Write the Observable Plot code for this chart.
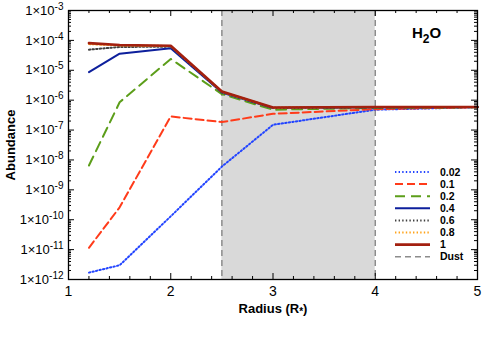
<!DOCTYPE html>
<html><head><meta charset="utf-8">
<script src="https://cdn.jsdelivr.net/npm/d3@7"></script>
<script src="https://cdn.jsdelivr.net/npm/@observablehq/plot@0.6"></script>
<style>
body{margin:0;background:#fff;font-family:"Liberation Sans",Arial,Helvetica,sans-serif}
#chart{position:relative;width:485px;height:345px}
</style>
</head><body><div id="chart"></div><script>
// ---- data ----
const radius = [1.2, 1.5, 2, 2.5, 3, 4, 5];
const ab002 = [1.7e-12, 3e-12, 1.3e-10, 6e-9, 1.5e-7, 4.8e-7, 5.8e-7];
const ab01  = [1.15e-11, 2.6e-10, 2.85e-7, 1.85e-7, 3.5e-7, 5e-7, 5.8e-7];
const ab02  = [6.5e-9, 8.5e-7, 2.4e-5, 1.6e-6, 4.8e-7, 5.5e-7, 5.8e-7];
const ab04  = [8.7e-6, 3.6e-5, 5.5e-5, 1.8e-6, 5.5e-7, 5.8e-7, 5.9e-7];
const ab06  = [4.9e-5, 6e-5, 6.2e-5, 1.9e-6, 5.6e-7, 5.8e-7, 5.9e-7];
const ab08  = [7.5e-5, 6.8e-5, 6.5e-5, 1.9e-6, 5.6e-7, 5.9e-7, 5.9e-7];
const ab1   = [8.1e-5, 7e-5, 6.6e-5, 1.95e-6, 5.7e-7, 5.9e-7, 5.9e-7];
const seriesNames = ["0.02", "0.1", "0.2", "0.4", "0.6", "0.8", "1"];
const seriesValues = [ab002, ab01, ab02, ab04, ab06, ab08, ab1];
const dustRange = [2.5, 4];
const xTicks = [1, 2, 3, 4, 5];
const yTicks = [1e-12, 1e-11, 1e-10, 1e-9, 1e-8, 1e-7, 1e-6, 1e-5, 1e-4, 1e-3];

// ---- styles ----
const styles = {
  "0.02": {stroke: "#2244ff", strokeWidth: 2, strokeDasharray: "1.4,2.2"},
  "0.1":  {stroke: "#ff3b1a", strokeWidth: 2, strokeDasharray: "8,4"},
  "0.2":  {stroke: "#5c9e1a", strokeWidth: 2, strokeDasharray: "10,6"},
  "0.4":  {stroke: "#0d1f9c", strokeWidth: 2},
  "0.6":  {stroke: "#404040", strokeWidth: 2, strokeDasharray: "1.4,2.2"},
  "0.8":  {stroke: "#ffa31a", strokeWidth: 2, strokeDasharray: "1.4,2.2"},
  "1":    {stroke: "#a3200f", strokeWidth: 2.6}
};
const dustStyle = {stroke: "#8c8c8c", strokeWidth: 1.5, strokeDasharray: "6,4"};

const rows = seriesNames.flatMap((s, i) => radius.map((r, j) => ({series: s, r, v: seriesValues[i][j]})));

// tick helpers
const xMinor = d3.range(1, 5.0001, 0.2).map(d => +d.toFixed(1));
const yMinor = [];
for (let k = -12; k < -3; k++) for (let m = 2; m <= 9; m++) yMinor.push(m * Math.pow(10, k));
const W = 485, H = 345, mL = 68, mR = 8, mT = 10, mB = 66;
const pxX = (W - mL - mR) / 4;            // px per x unit
const pxDec = (H - mT - mB) / 9;          // px per decade
const dxu = px => px / pxX;
const dyf = px => Math.pow(10, px / pxDec);

const marks = [
  Plot.rect([dustRange], {x1: d => d[0], x2: d => d[1], fill: "#d9d9d9"}),
  Plot.ruleX(dustRange, {x: d => d, ...dustStyle}),
  ...seriesNames.map(s => Plot.line(rows.filter(d => d.series === s), {x: "r", y: "v", ...styles[s], strokeLinejoin: "round"})),
  // ticks (inward), bottom/top
  Plot.ruleX(xMinor, {x: d => d, y1: () => 1e-12, y2: d => 1e-12 * dyf(xTicks.includes(d) ? 6 : 3), stroke: "#000"}),
  Plot.ruleX(xMinor, {x: d => d, y1: () => 1e-3, y2: d => 1e-3 / dyf(xTicks.includes(d) ? 6 : 3), stroke: "#000"}),
  // ticks left/right
  Plot.ruleY(yTicks, {y: d => d, x1: () => 1, x2: () => 1 + dxu(6), stroke: "#000"}),
  Plot.ruleY(yMinor, {y: d => d, x1: () => 1, x2: () => 1 + dxu(3), stroke: "#000"}),
  Plot.ruleY(yTicks, {y: d => d, x1: () => 5, x2: () => 5 - dxu(6), stroke: "#000"}),
  Plot.ruleY(yMinor, {y: d => d, x1: () => 5, x2: () => 5 - dxu(3), stroke: "#000"}),
  Plot.frame({stroke: "#000", strokeWidth: 1.3}),
  Plot.axisX({ticks: xTicks, tickSize: 0, tickPadding: 7, tickFormat: d => String(d), label: null, fontSize: 14}),
  Plot.axisY({ticks: yTicks, tickSize: 0, tickPadding: 5, tickFormat: d => "1×10^" + Math.round(Math.log10(d)), label: null, fontSize: 13})
];

const svg = Plot.plot({
  width: W, height: H,
  marginLeft: mL, marginRight: mR, marginTop: mT, marginBottom: mB,
  x: {domain: [1, 5]},
  y: {type: "log", domain: [1e-12, 1e-3]},
  style: {fontFamily: "Liberation Sans, Arial, Helvetica, sans-serif", color: "#000", background: "#fff", overflow: "visible"},
  marks
});
document.getElementById("chart").appendChild(svg);

// superscript exponents in y tick labels
d3.select(svg).selectAll('g[aria-label="y-axis tick label"] text').each(function () {
  const t = d3.select(this);
  const txt = t.text();
  const [base, exp] = txt.split("^");
  t.text(null);
  t.append("tspan").text(base);
  t.append("tspan").attr("dy", "-5").attr("font-size", "10px").text(exp);
});

const g = d3.select(svg).append("g").attr("font-family", "Liberation Sans, Arial, Helvetica, sans-serif")
  .attr("fill", "#000").attr("text-anchor", "start");
// axis titles
g.append("text").attr("transform", "translate(15,145) rotate(-90)").attr("text-anchor", "middle")
  .attr("font-weight", "bold").attr("font-size", "13px").text("Abundance");
const xt = g.append("text").attr("x", 273).attr("y", 313).attr("text-anchor", "middle")
  .attr("font-weight", "bold").attr("font-size", "13px");
xt.append("tspan").text("Radius (R");
xt.append("tspan").attr("font-size", "10px").attr("dy", "2").text("*");
xt.append("tspan").attr("dy", "-2").text(")");
// molecule label
const ml = g.append("text").attr("x", 412).attr("y", 38).attr("font-weight", "bold").attr("font-size", "15px");
ml.append("tspan").text("H");
ml.append("tspan").attr("font-size", "12px").attr("dy", "5").text("2");
ml.append("tspan").attr("dy", "-5").text("O");

// legend
const legendItems = seriesNames.map(s => ({label: s, style: styles[s]})).concat([{label: "Dust", style: dustStyle}]);
const lg = g.append("g");
legendItems.forEach((it, i) => {
  const y = 172 + i * 12.1;
  const ln = lg.append("line").attr("x1", 395).attr("x2", 430).attr("y1", y).attr("y2", y)
    .attr("stroke", it.style.stroke).attr("stroke-width", it.style.strokeWidth);
  if (it.style.strokeDasharray) ln.attr("stroke-dasharray", it.style.strokeDasharray);
  lg.append("text").attr("x", 440).attr("y", y).attr("dy", "0.35em").attr("font-weight", "bold")
    .attr("font-size", "10.5px").text(it.label);
});
</script></body></html>
